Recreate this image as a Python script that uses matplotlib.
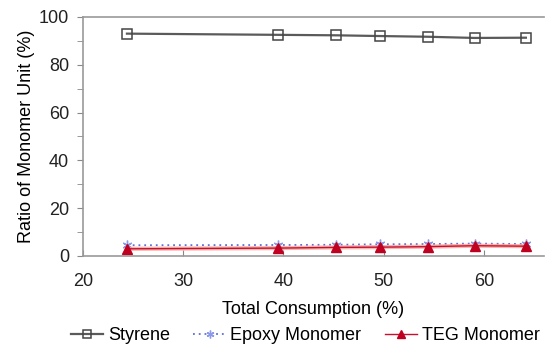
import matplotlib
matplotlib.use("Agg")
import matplotlib.pyplot as plt

plt.rcParams['font.family'] = ['Liberation Sans', 'DejaVu Sans']

consumption = [24.4, 39.5, 45.3, 49.6, 54.4, 59.1, 64.2]
styrene = [93.0, 92.5, 92.3, 92.0, 91.7, 91.2, 91.3]
epoxy = [4.5, 4.6, 4.7, 4.9, 5.0, 5.2, 5.0]
teg = [3.0, 3.3, 3.6, 3.7, 3.9, 4.3, 4.1]

fig = plt.figure(figsize=(5.45, 3.45), dpi=100)
ax = fig.add_axes([0.152, 0.258, 0.846, 0.693])

ax.plot(consumption, styrene, color='#5a5a5a', lw=1.6, marker='s', ms=7,
        mfc='none', mec='#444444', mew=1.1, label='Styrene')
ax.plot(consumption, epoxy, color='#5b6fd6', lw=1.3, ls=(0, (1, 2.2)),
        marker=(6, 2, 0), ms=7, mec='#8a9ae8', mew=1.0, label='Epoxy Monomer')
ax.plot(consumption, teg, color='#f4a39a', lw=3.0, alpha=0.8)
ax.plot(consumption, teg, color='#c8102e', lw=1.0, marker='^', ms=7.5,
        mfc='#c00020', mec='#c00020', label='TEG Monomer')

ax.set_xlim(20, 66)
ax.set_ylim(0, 100)
ax.set_xticks([20, 30, 40, 50, 60])
ax.set_yticks(range(0, 101, 20))
ax.set_yticks(range(0, 101, 10), minor=True)
ax.tick_params(axis='y', which='both', direction='out', length=4, colors='#888888',
               labelsize=13, labelcolor='#222222', pad=6)
ax.tick_params(axis='x', direction='in', length=4, color='#888888',
               labelsize=13, labelcolor='#222222', pad=12)

for side in ['left', 'bottom', 'top']:
    ax.spines[side].set_color('#999999')
    ax.spines[side].set_linewidth(1.2)
ax.spines['right'].set_visible(False)

ax.set_xlabel('Total Consumption (%)', fontsize=13, labelpad=8)
ax.set_ylabel('Ratio of Monomer Unit (%)', fontsize=13, labelpad=3)

handles, labels = ax.get_legend_handles_labels()
fig.legend(handles, labels, loc='lower center', bbox_to_anchor=(0.56, -0.045),
           ncol=3, frameon=False, fontsize=13, handlelength=1.8,
           handletextpad=0.25, columnspacing=1.3, markerscale=0.8)

fig.savefig('out.png', dpi=100)
